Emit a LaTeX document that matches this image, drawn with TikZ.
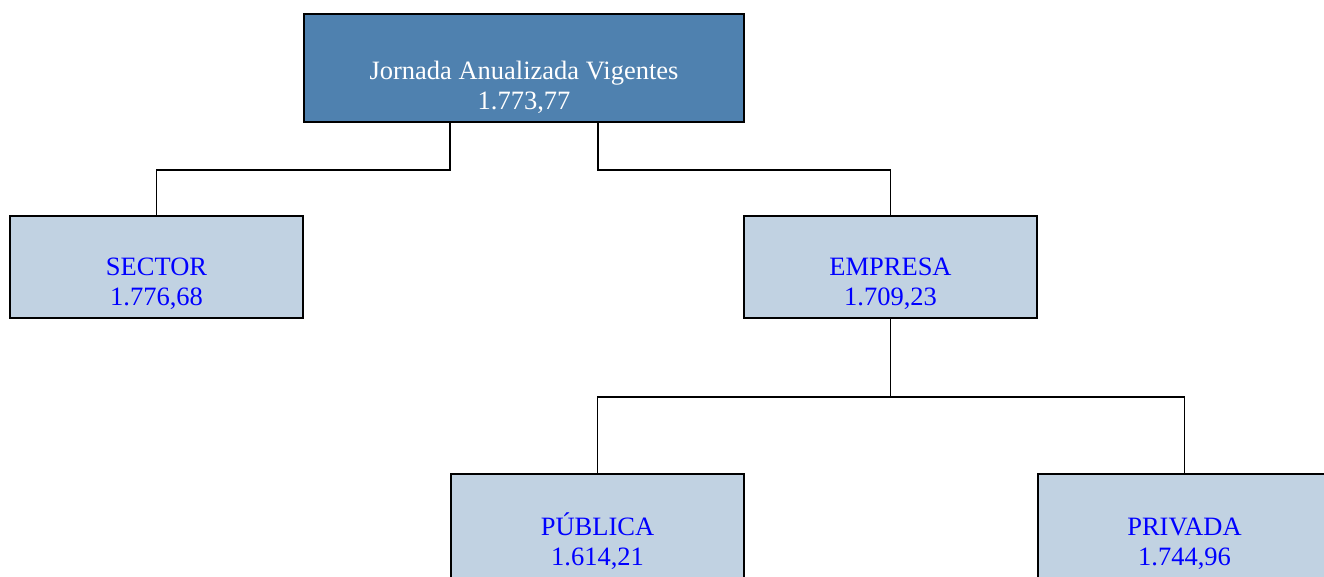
\documentclass[tikz,border=0pt]{standalone}
\usepackage{fontspec}
\setmainfont{Liberation Serif}
\usetikzlibrary{calc}
\definecolor{topblue}{RGB}{79,129,175}
\definecolor{boxblue}{RGB}{193,210,226}

\begin{document}
\begin{tikzpicture}[x=1pt, y=-1pt, line width=1.8pt,
  box/.style={draw=black, fill=boxblue, minimum width=293pt, minimum height=102pt, inner sep=0pt},
  rootbox/.style={box, fill=topblue, minimum width=440pt, minimum height=108pt},
  boxtext/.style={font=\fontsize{26.5}{30}\selectfont, align=center, text=blue, inner sep=0pt},
  roottext/.style={boxtext, text=white}]
  \useasboundingbox (0,0) rectangle (1324,576);
  \clip (0,0) rectangle (1324,576);
  % top box
  \node[rootbox] (root) at (524,68) {};
  \node[roottext] (roottxt) at ($(root.north)+(0,74)$) {Jornada Anualizada Vigentes\\1.773,77};
  % first level
  \node[box] (sector) at (156.5,267) {};
  \node[boxtext] (sectortxt) at ($(sector.north)+(0,69)$) {SECTOR\\1.776,68};
  \node[box] (empresa) at (890.5,267) {};
  \node[boxtext] (empresatxt) at ($(empresa.north)+(0,69)$) {EMPRESA\\1.709,23};
  % second level (runs off the bottom)
  \node[box, minimum height=130pt] (publica) at (597.5,539) {};
  \node[boxtext] (publicatxt) at ($(publica.north)+(0,68)$) {PÚBLICA\\1.614,21};
  \node[box, minimum height=130pt] (privada) at (1184.5,539) {};
  \node[boxtext] (privadatxt) at ($(privada.north)+(0,71)$) {PRIVADA\\1.744,96};
  % connectors
  \coordinate (rootl) at ($(root.south west)!1/3!(root.south east)$);
  \coordinate (rootr) at ($(root.south west)!2/3!(root.south east)$);
  \draw (rootl) -- ++(0,47) -| (sector.north);
  \draw (rootr) -- ++(0,47) -| (empresa.north);
  \draw (empresa.south) -- ++(0,78) coordinate (split);
  \draw (publica.north) |- (split) -| (privada.north);
\end{tikzpicture}
\end{document}
